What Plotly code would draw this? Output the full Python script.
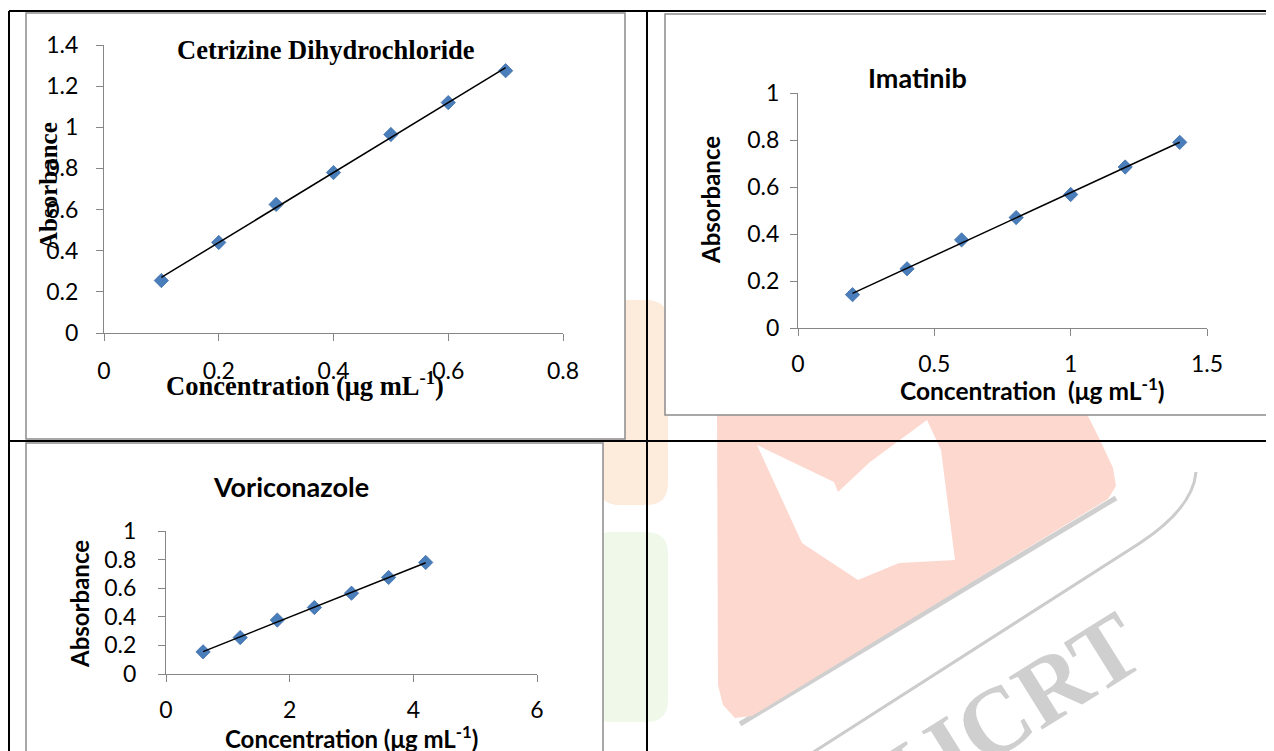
import numpy as np
import plotly.graph_objects as go

# page is 1274x751; the html body has an 8px margin, so the figure starts
# 8px in from the page corner and page coordinates are shifted by 8px.
PW, PH = 1274, 751
OFF = 8
W, H = PW - OFF, PH - OFF

# ---------------- data ----------------
cet_conc = [0.1, 0.2, 0.3, 0.4, 0.5, 0.6, 0.7]
cet_abs = [0.255, 0.44, 0.625, 0.78, 0.965, 1.12, 1.275]

ima_conc = [0.2, 0.4, 0.6, 0.8, 1.0, 1.2, 1.4]
ima_abs = [0.142, 0.252, 0.375, 0.47, 0.568, 0.685, 0.79]

vor_conc = [0.6, 1.2, 1.8, 2.4, 3.0, 3.6, 4.2]
vor_abs = [0.155, 0.255, 0.377, 0.465, 0.565, 0.675, 0.78]

titles = ["Cetrizine Dihydrochloride", "Imatinib", "Voriconazole"]
y_title = "Absorbance"
x_titles = ["Concentration (μg mL<sup>-1</sup>)",
            "Concentration\u00a0\u00a0(μg mL<sup>-1</sup>)",
            "Concentration (μg mL<sup>-1</sup>)"]


def X(p):
    return (p - OFF) / W


def Y(p):
    return 1 - (p - OFF) / H


def path(pts, close=True):
    s = "M {} {}".format(X(pts[0][0]), Y(pts[0][1]))
    for x, y in pts[1:]:
        s += " L {} {}".format(X(x), Y(y))
    return s + (" Z" if close else "")


def rrect(x0, y0, x1, y1, r):
    s = "M {} {}".format(X(x0 + r), Y(y0))
    s += " L {} {}".format(X(x1 - r), Y(y0))
    s += " Q {} {} {} {}".format(X(x1), Y(y0), X(x1), Y(y0 + r))
    s += " L {} {}".format(X(x1), Y(y1 - r))
    s += " Q {} {} {} {}".format(X(x1), Y(y1), X(x1 - r), Y(y1))
    s += " L {} {}".format(X(x0 + r), Y(y1))
    s += " Q {} {} {} {}".format(X(x0), Y(y1), X(x0), Y(y1 - r))
    s += " L {} {}".format(X(x0), Y(y0 + r))
    s += " Q {} {} {} {}".format(X(x0), Y(y0), X(x0 + r), Y(y0))
    return s + " Z"


fig = go.Figure()

MARKER = dict(symbol="diamond", size=11, color="#4a7ebb",
              line=dict(color="#3f6ea8", width=0.8))

series = [(cet_conc, cet_abs, "x", "y"),
          (ima_conc, ima_abs, "x2", "y2"),
          (vor_conc, vor_abs, "x3", "y3")]
for cx, cy, xa, ya in series:
    cx = np.array(cx)
    cy = np.array(cy)
    m, b = np.polyfit(cx, cy, 1)
    lx = np.array([cx.min(), cx.max()])
    fig.add_trace(go.Scatter(x=cx, y=cy, mode="markers", marker=MARKER,
                             xaxis=xa, yaxis=ya, showlegend=False,
                             cliponaxis=False))
    fig.add_trace(go.Scatter(x=lx, y=m * lx + b, mode="lines",
                             line=dict(color="black", width=1.5),
                             xaxis=xa, yaxis=ya, showlegend=False,
                             cliponaxis=False))

AX = dict(showline=True, linecolor="#868686", linewidth=1.3,
          ticks="outside", ticklen=7, tickcolor="#868686", tickwidth=1.3,
          showgrid=False, zeroline=False, fixedrange=True, automargin=False)

tick1 = dict(family="Lato", size=23, color="black")
tick2 = dict(family="Lato", size=23, color="black")
tick3 = dict(family="Lato", size=23, color="black")

fig.update_layout(
    template="none",
    width=W, height=H, autosize=False,
    margin=dict(l=0, r=0, t=0, b=0, pad=0, autoexpand=False),
    paper_bgcolor="white", plot_bgcolor="rgba(0,0,0,0)",
    xaxis=dict(AX, domain=[X(104), X(563)], range=[0, 0.8], dtick=0.2,
               tick0=0, anchor="y", tickfont=tick1, ticklabelstandoff=10),
    yaxis=dict(AX, domain=[Y(333), Y(45)], range=[0, 1.4], dtick=0.2,
               tick0=0, anchor="x", tickfont=tick1, ticklabelstandoff=13),
    xaxis2=dict(AX, domain=[X(798), X(1207)], range=[0, 1.5], dtick=0.5,
                tick0=0, anchor="y2", tickfont=tick2, ticklabelstandoff=8),
    yaxis2=dict(AX, domain=[Y(328), Y(93)], range=[0, 1], dtick=0.2,
                tick0=0, anchor="x2", tickfont=tick2, ticklabelstandoff=6),
    xaxis3=dict(AX, domain=[X(166), X(537)], range=[0, 6], dtick=2,
                tick0=0, anchor="y3", tickfont=tick3, ticklabelstandoff=8),
    yaxis3=dict(AX, domain=[Y(674), Y(531)], range=[0, 1], dtick=0.2,
                tick0=0, anchor="x3", tickfont=tick3, ticklabelstandoff=17),
)

shapes = []
# ---- watermark (decorative background) ----
shapes.append(dict(type="path", path=rrect(598, 300, 668, 505, 22),
                   xref="paper", yref="paper", fillcolor="#fdebdc",
                   line=dict(width=0), layer="below"))
shapes.append(dict(type="path", path=rrect(590, 532, 668, 722, 22),
                   xref="paper", yref="paper", fillcolor="#f0f9e9",
                   line=dict(width=0), layer="below"))
shapes.append(dict(type="path",
                   path=path([(1116, 498), (740, 724)], close=False),
                   xref="paper", yref="paper",
                   line=dict(color="#cfcfcf", width=5), layer="below"))
shapes.append(dict(type="path",
                   path=path([(717, 400), (1080, 400), (1100, 440), (1113, 468),
                              (1116, 486), (1108, 499), (752, 716), (735, 718),
                              (723, 705), (718, 685)]),
                   xref="paper", yref="paper", fillcolor="#fdd8cf",
                   line=dict(width=0), layer="below"))
shapes.append(dict(type="path",
                   path=path([(757, 445), (834, 482), (838, 492), (870, 462),
                              (927, 420), (941, 450), (955, 560), (899, 563),
                              (858, 580), (802, 543)]),
                   xref="paper", yref="paper", fillcolor="white",
                   line=dict(width=0), layer="below"))
arc = "M {} {} Q {} {} {} {} L {} {}".format(
    X(1196), Y(472), X(1193), Y(508), X(1140), Y(543), X(812), Y(753))
shapes.append(dict(type="path", path=arc, xref="paper", yref="paper",
                   line=dict(color="#cccccc", width=3), layer="below"))

# ---- chart frames ----
FR = dict(color="#8c8c8c", width=1.5)
for x0, y0, x1, y1 in [(26, 13, 625, 439), (665, 14, 1290, 415),
                       (26, 443, 603, 770)]:
    shapes.append(dict(type="rect", xref="paper", yref="paper",
                       x0=X(x0), x1=X(x1), y0=Y(y1), y1=Y(y0),
                       fillcolor="white", line=FR, layer="below"))

# ---- table lines ----
TL = dict(color="black", width=2)
for x0, y0, x1, y1 in [(9, 11, 1280, 11), (9, 11, 9, 760),
                       (647, 11, 647, 760), (9, 441, 1280, 441)]:
    shapes.append(dict(type="line", xref="paper", yref="paper",
                       x0=X(x0), x1=X(x1), y0=Y(y0), y1=Y(y1),
                       line=TL, layer="below"))

fig.update_layout(shapes=shapes)

ann = []


def A(text, x, y, family, size, angle=0, color="black"):
    ann.append(dict(text=text, x=X(x), y=Y(y), xref="paper", yref="paper",
                    xanchor="center", yanchor="middle", showarrow=False,
                    textangle=angle, font=dict(family=family, size=size,
                                               color=color)))


# watermark text
A("<b>IJCRT</b>", 1013, 710, "Liberation Serif", 95, angle=-32,
  color="#cfcfcf")

SERIF = "Liberation Serif"
SANS = "Lato"
A("<b>" + titles[0] + "</b>", 326, 50, SERIF, 26.5)
A("<b>" + x_titles[0] + "</b>", 305, 384, SERIF, 26.5)
A("<b>" + y_title + "</b>", 48, 186, SERIF, 25, angle=-90)

A("<b>" + titles[1] + "</b>", 917, 77, SANS, 27)
A("<b>" + x_titles[1] + "</b>", 1032, 389, SANS, 24.5)
A("<b>" + y_title + "</b>", 710, 200, SANS, 24, angle=-90)

A("<b>" + titles[2] + "</b>", 291, 486, SANS, 27)
A("<b>" + x_titles[2] + "</b>", 351, 737, SANS, 24)
A("<b>" + y_title + "</b>", 79, 604, SANS, 24, angle=-90)

fig.update_layout(annotations=ann)

fig.write_html("out.html")
